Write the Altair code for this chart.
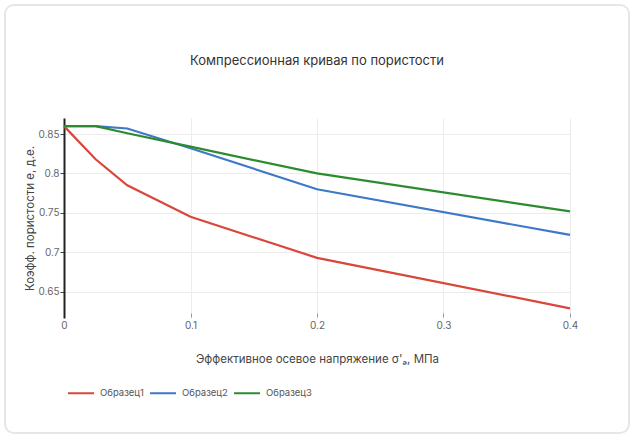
import altair as alt
import pandas as pd

stress = [0, 0.025, 0.05, 0.1, 0.2, 0.4]
sample1 = [0.86, 0.818, 0.785, 0.745, 0.693, 0.629]
sample2 = [0.86, 0.86, 0.857, 0.832, 0.78, 0.722]
sample3 = [0.86, 0.86, 0.851, 0.834, 0.80, 0.752]
series_names = ["Образец1", "Образец2", "Образец3"]
colors = ["#d9463b", "#3d79c6", "#2d8b2f"]
x_ticks = [0, 0.1, 0.2, 0.3, 0.4]
y_ticks = [0.65, 0.7, 0.75, 0.8, 0.85]

rows = []
for name, vals in zip(series_names, [sample1, sample2, sample3]):
    for s, v in zip(stress, vals):
        rows.append({"x": s, "e": v, "series": name})
df = pd.DataFrame(rows)

FONT = "Inter"

card = alt.Chart(pd.DataFrame({"a": [0]})).mark_rect(
    fill="transparent", stroke="#e6e6e6", strokeWidth=2, cornerRadius=9
).encode(
    x=alt.value(-59), x2=alt.value(565), y=alt.value(-113), y2=alt.value(315)
)

lines = alt.Chart(df).mark_line(strokeWidth=2.2, clip=False).encode(
    x=alt.X(
        "x:Q",
        scale=alt.Scale(domain=[0, 0.4], nice=False, zero=False),
        axis=alt.Axis(
            values=x_ticks, format=".1~f", title="Эффективное осевое напряжение σ'ₐ, МПа",
            domain=False, grid=True, gridColor="#ececec", gridWidth=1,
            ticks=True, tickSize=4, tickColor="#9a9a9a", tickWidth=1,
            offset=-5, labelPadding=3, labelFontSize=10, labelColor="#666",
            labelFlush=False,
            labelFont=FONT, titleFont=FONT, titleFontSize=11.5, titleFontWeight="normal",
            titleColor="#444", titlePadding=23,
        ),
    ),
    y=alt.Y(
        "e:Q",
        scale=alt.Scale(domain=[0.6167, 0.8703], nice=False, zero=False),
        axis=alt.Axis(
            values=y_ticks, format=".2~f", title="Коэфф. пористости е, д.е.",
            domain=True, domainColor="#222", domainWidth=2,
            grid=True, gridColor="#ececec", gridWidth=1,
            ticks=True, tickSize=4, tickColor="#444", tickWidth=1,
            labelPadding=1, labelFontSize=10, labelColor="#666", labelFlush=False,
            labelFont=FONT, titleFont=FONT, titleFontSize=11.5, titleFontWeight="normal",
            titleColor="#444", titlePadding=3,
        ),
    ),
    color=alt.Color(
        "series:N",
        scale=alt.Scale(domain=series_names, range=colors),
        legend=alt.Legend(
            title=None, orient="none", direction="horizontal",
            legendX=3, legendY=261, symbolType="stroke", symbolSize=676,
            symbolStrokeWidth=2, labelFontSize=9.5, labelColor="#555", labelFont=FONT,
            labelOffset=5, columnPadding=2, padding=0,
        ),
    ),
)

chart = alt.layer(card, lines).properties(
    width=506,
    height=200,
    padding={"left": 64, "top": 118, "right": 65, "bottom": 122},
    autosize=alt.AutoSizeParams(type="none"),
    background="white",
    title=alt.TitleParams(
        "Компрессионная кривая по пористости", font=FONT, fontSize=13,
        fontWeight="normal", color="#333", anchor="middle", frame="group", offset=-64,
    ),
).configure_view(stroke=None)

chart.save("out.html", embed_options={"renderer": "svg", "actions": False})
